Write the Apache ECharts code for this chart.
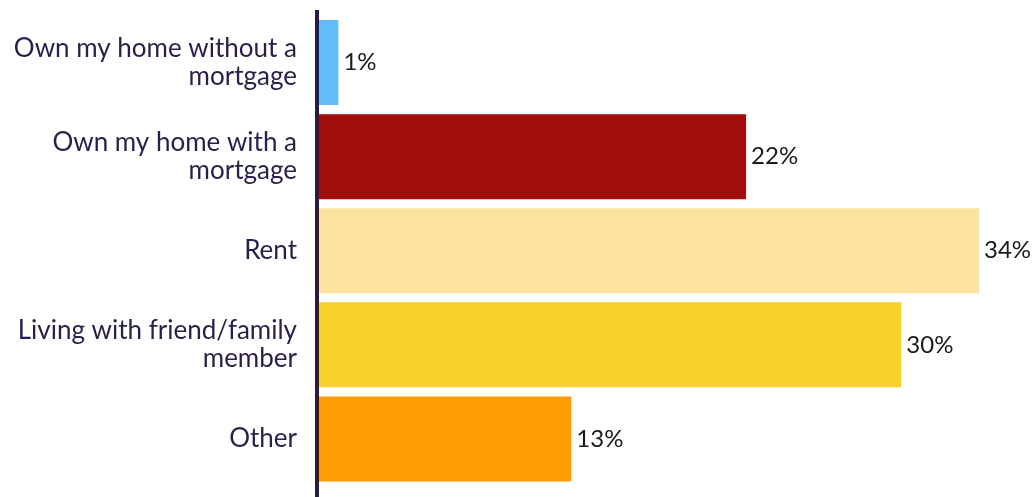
<!DOCTYPE html>
<html>
<head>
<meta charset="utf-8">
<script src="https://cdn.jsdelivr.net/npm/echarts@6/dist/echarts.min.js"></script>
<style>html,body{margin:0;padding:0;background:#fff}#c{width:1033px;height:497px}</style>
</head>
<body>
<div id="c"></div>
<script>
const categories = [
  "Own my home without a\nmortgage",
  "Own my home with a\nmortgage",
  "Rent",
  "Living with friend/family\nmember",
  "Other"
];
const values = [1, 22, 34, 30, 13];
const colors = ["#63bbf9", "#a20e0b", "#fce39f", "#fad02c", "#fe9c06"];

const chart = echarts.init(document.getElementById('c'));
chart.setOption({
  animation: false,
  grid: { left: 319, right: 54, top: 15.5, bottom: 11, containLabel: false },
  xAxis: { type: 'value', min: 0, max: 34, show: false },
  yAxis: {
    type: 'category', inverse: true, data: categories,
    axisLine: { show: false }, axisTick: { show: false },
    axisLabel: { fontFamily: 'Lato', fontSize: 26, color: '#2c1e4a', margin: 22, lineHeight: 28, align: 'right' }
  },
  graphic: [{
    type: 'line', z: 10,
    shape: { x1: 317, y1: 10, x2: 317, y2: 497 },
    style: { stroke: '#2a1b45', lineWidth: 4 }
  }],
  series: [{
    type: 'bar', barWidth: 85,
    data: values.map((v, i) => ({ value: v, itemStyle: { color: colors[i] } })),
    label: { show: true, position: 'right', distance: 5, formatter: '{c}%', fontFamily: 'Lato', fontSize: 24, color: '#1a1a1a' }
  }]
});
</script>
</body>
</html>
